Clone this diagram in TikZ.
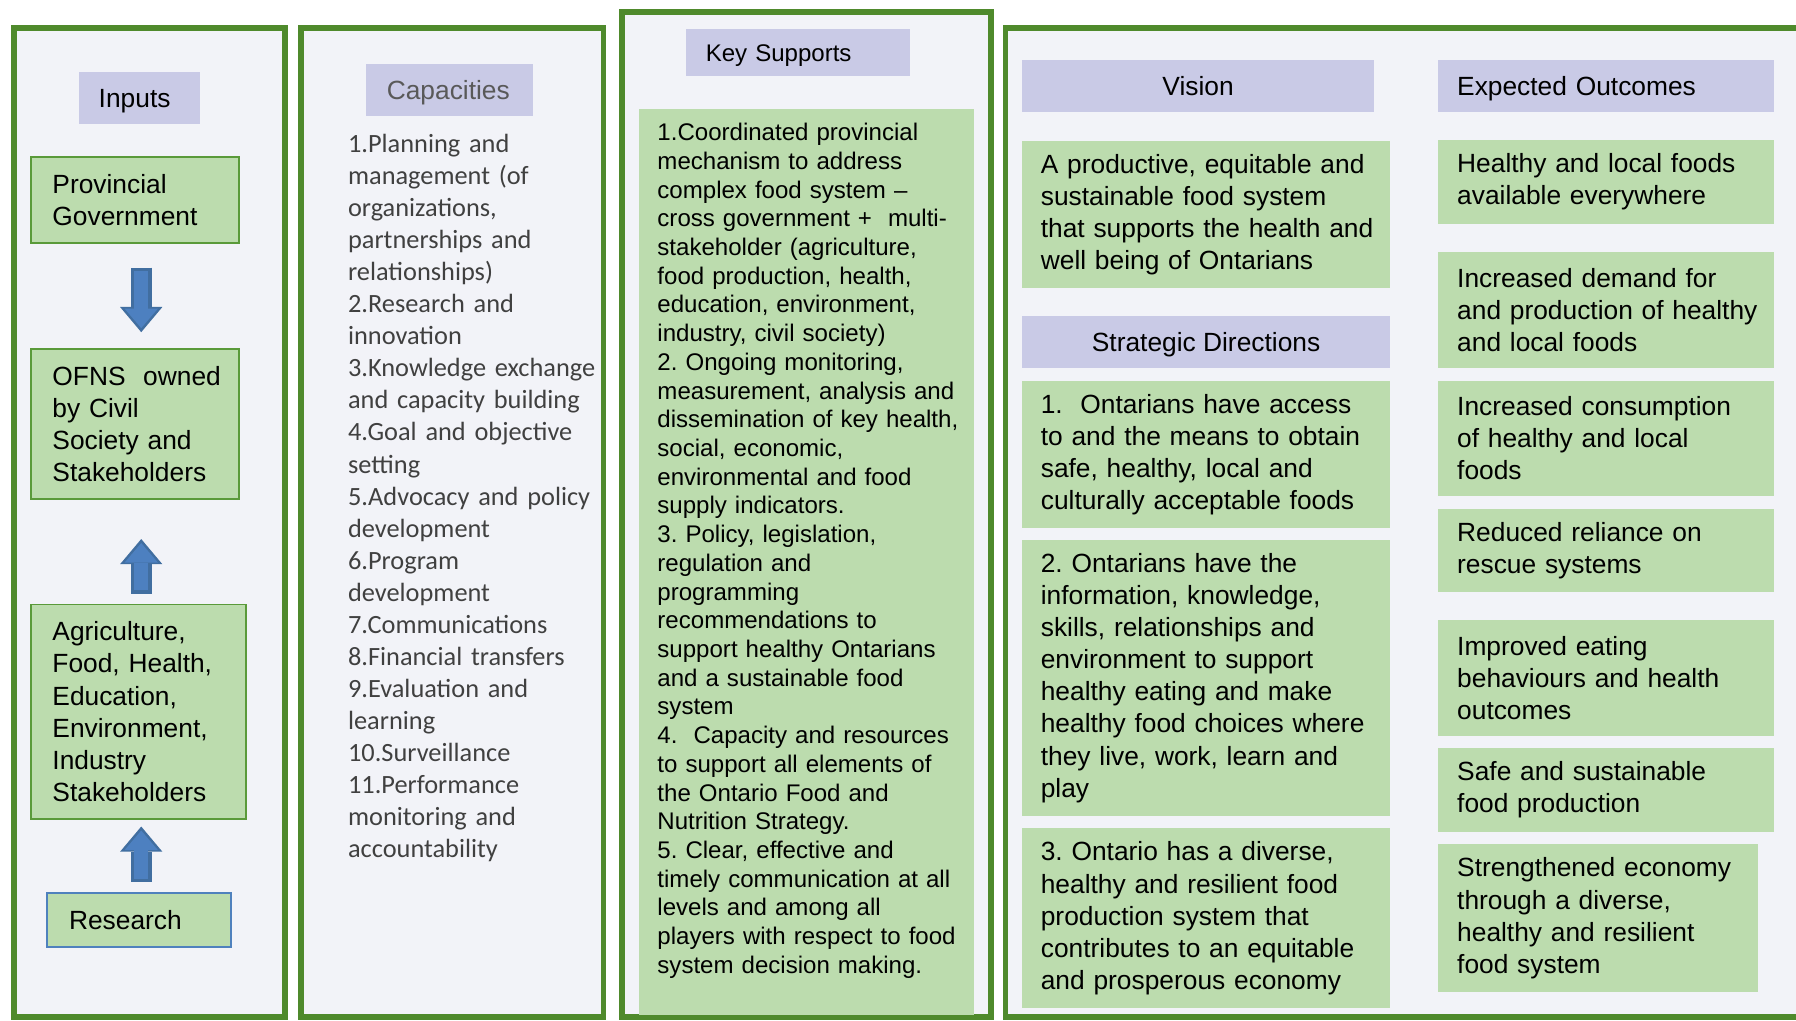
\documentclass[tikz,border=0pt]{standalone}
\usepackage{fontspec}
\setmainfont{Liberation Sans}
\newfontfamily\calibri{Carlito}
\usetikzlibrary{arrows.meta}
\frenchspacing

\definecolor{panelgreen}{HTML}{4F8A2C}
\definecolor{panelfill}{HTML}{F2F3F8}
\definecolor{headblue}{HTML}{C9CAE6}
\definecolor{boxgreen}{HTML}{BCDCAE}
\definecolor{boxedge}{HTML}{5A9A3A}
\definecolor{resedge}{HTML}{4F81BD}
\definecolor{arrowblue}{HTML}{4D80C0}
\definecolor{arrowedge}{HTML}{416EA0}
\definecolor{greytext}{HTML}{595959}
\definecolor{captext}{HTML}{404040}

\tikzset{
  panel/.style={draw=panelgreen, line width=4.8pt, fill=panelfill},
  cell/.style n args={3}{anchor=north west, inner sep=0pt, text width=#1,
    minimum height=#2, align=left, execute at begin node={\leftskip=#3\relax}},
  head/.style={fill=headblue, font=\fontsize{23}{28}\selectfont,
    text height=16.5pt, text depth=0pt},
  chead/.style 2 args={head, anchor=north west, inner sep=0pt,
    minimum width=#1, minimum height=#2},
  txt/.style={fill=boxgreen, font=\fontsize{23}{28}\selectfont},
  inbox/.style={txt, draw=boxedge, line width=1.6pt},
  fatarrow/.style={draw=arrowblue, line width=12pt, shorten <=3pt, shorten >=3.5pt,
    -{Triangle[width=29pt,length=17pt,line width=0pt]},
    preaction={draw=arrowedge, line width=18pt, shorten <=0pt, shorten >=0pt,
      -{Triangle[width=37pt,length=22pt,line width=0pt]}}}
}

\begin{document}
\begin{tikzpicture}[x=1pt, y=-1pt]
  \useasboundingbox (0,0) rectangle (1568,891);
  \clip (0,0) rectangle (1568,891);
  \fill[white] (0,0) rectangle (1568,891);

  \draw[panel] (12.2,24.5) rectangle (249,888);
  \draw[panel] (263,24.5) rectangle (527,888);
  \draw[panel] (543,10.5) rectangle (865,888);
  \draw[panel] (878,24.5) rectangle (1600,888);

  % inputs column
  \node[head, cell={105pt}{45.5pt}{17pt}] (inp) at (69,62.5) {Inputs};
  \node[inbox, cell={182pt}{75.5pt}{19pt}] (prov) at (26,136) {Provincial\\Government};
  \node[inbox, cell={182pt}{131pt}{19pt}] (ofns) at (26,304) {OFNS~ owned\\by Civil\\Society and\\Stakeholders};
  \node[inbox, cell={188pt}{187pt}{19pt}] (agri) at (26,527) {Agriculture,\\Food, Health,\\Education,\\Environment,\\Industry\\Stakeholders};
  \node[inbox, draw=resedge, cell={161pt}{47pt}{19.5pt}] (res) at (40,779) {Research};

  \coordinate (ax) at (123.3,0);
  \foreach \a/\b/\s/\t in {prov.south/ofns.north/-20.5/14, agri.north/ofns.south/8.5/-34, res.north/agri.south/9/-6}
    \draw[fatarrow] ([yshift=\s pt]\a -| ax) -- ([yshift=\t pt]\b -| ax);

  % capacities column
  \node[head, text=greytext, cell={145.5pt}{45pt}{18pt}] (cap) at (319.5,56) {Capacities};
  \node[anchor=base west, inner sep=0pt, text width=230pt, align=left, text=captext,
    font=\calibri\fontsize{23}{28}\selectfont] (caplist) at (303.7,133)
    {1.Planning and\\management (of\\organizations,\\partnerships and\\relationships)\\2.Research and\\innovation\\3.Knowledge exchange\\and capacity building\\4.Goal and objective\\setting\\5.Advocacy and policy\\development\\6.Program\\development\\7.Communications\\8.Financial transfers\\9.Evaluation and\\learning\\10.Surveillance\\11.Performance\\monitoring and\\accountability};

  % key supports column
  \node[head, font=\fontsize{21}{25}\selectfont, text height=15pt, cell={195.5pt}{41.5pt}{17pt}] (keys) at (599,25) {Key Supports};
  \node[fill=boxgreen, cell={293pt}{0pt}{16.5pt}, font=\fontsize{21}{25.07}\selectfont,
    text height=28pt, text depth=763pt] (keytxt) at (557.3,94.6)
    {1.Coordinated provincial\\mechanism to address\\complex food system –\\cross government +~ multi-\\stakeholder (agriculture,\\food production, health,\\education, environment,\\industry, civil society)\\2. Ongoing monitoring,\\measurement, analysis and\\dissemination of key health,\\social, economic,\\environmental and food\\supply indicators.\\3. Policy, legislation,\\regulation and\\programming\\recommendations to\\support healthy Ontarians\\and a sustainable food\\system\\4.~ Capacity and resources\\to support all elements of\\the Ontario Food and\\Nutrition Strategy.\\5. Clear, effective and\\timely communication at all\\levels and among all\\players with respect to food\\system decision making.};

  % vision and strategic directions
  \node[chead={307.5pt}{45.5pt}] (vis) at (892,52) {Vision};
  \node[txt, cell={321.5pt}{129pt}{16.5pt}] (vistxt) at (892,122.5) {A productive, equitable and\\sustainable food system\\that supports the health and\\well being of Ontarians};
  \node[chead={321.5pt}{45pt}] (sd) at (892,276) {Strategic Directions};
  \node[txt, cell={321.5pt}{129pt}{16.5pt}] (sd1) at (892,332) {1.~ Ontarians have access\\to and the means to obtain\\safe, healthy, local and\\culturally acceptable foods};
  \node[txt, cell={321.5pt}{240.5pt}{16.5pt}] (sd2) at (892,471.5) {2. Ontarians have the\\information, knowledge,\\skills, relationships and\\environment to support\\healthy eating and make\\healthy food choices where\\they live, work, learn and\\play};
  \node[txt, cell={321.5pt}{157pt}{16.5pt}] (sd3) at (892,723) {3. Ontario has a diverse,\\healthy and resilient food\\production system that\\contributes to an equitable\\and prosperous economy};

  % expected outcomes
  \node[head, cell={293.5pt}{45.5pt}{16.5pt}] (eo) at (1255.5,52) {Expected Outcomes};
  \node[txt, cell={293.5pt}{73pt}{16.5pt}] (eo1) at (1255.5,122) {Healthy and local foods\\available everywhere};
  \node[txt, cell={293.5pt}{101pt}{16.5pt}] (eo2) at (1255.5,220) {Increased demand for\\and production of healthy\\and local foods};
  \node[txt, cell={293.5pt}{101pt}{16.5pt}] (eo3) at (1255.5,332) {Increased consumption\\of healthy and local\\foods};
  \node[txt, cell={293.5pt}{72.5pt}{16.5pt}] (eo4) at (1255.5,444) {Reduced reliance on\\rescue systems};
  \node[txt, cell={293.5pt}{101pt}{16.5pt}] (eo5) at (1255.5,541) {Improved eating\\behaviours and health\\outcomes};
  \node[txt, cell={293.5pt}{73pt}{16.5pt}] (eo6) at (1255.5,653) {Safe and sustainable\\food production};
  \node[txt, cell={279.5pt}{129pt}{16.5pt}] (eo7) at (1255.5,737) {Strengthened economy\\through a diverse,\\healthy and resilient\\food system};
\end{tikzpicture}
\end{document}
